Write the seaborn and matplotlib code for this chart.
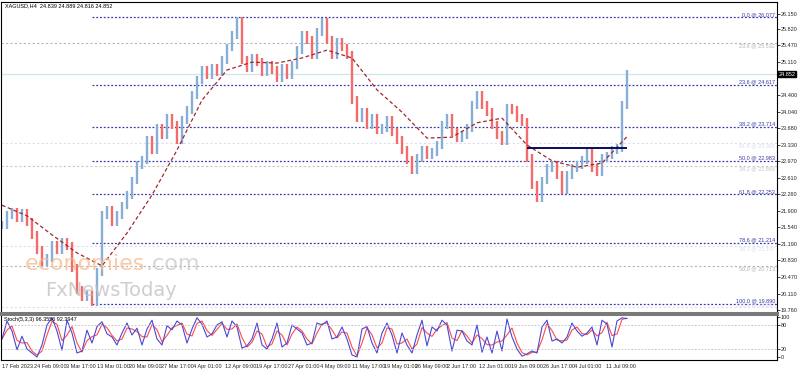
import numpy as np
import pandas as pd
import matplotlib
matplotlib.use("Agg")
import matplotlib.pyplot as plt
import seaborn as sns

# XAGUSD H4 closes, one per bar
closes = [
    21.59, 21.81, 21.87, 21.74, 21.85, 21.66, 21.38, 21.05, 20.79, 20.88,
    21.16, 21.05, 21.23, 21.14, 20.66, 20.19, 20.04, 20.08, 19.93, 20.58,
    21.81, 21.92, 21.66, 21.81, 22.02, 22.24, 22.56, 22.89, 23.00, 23.43,
    23.21, 23.69, 23.54, 23.90, 23.75, 23.43, 23.86, 24.08, 24.40, 24.72,
    24.94, 24.83, 24.98, 24.90, 25.16, 25.42, 25.70, 26.00, 25.16, 24.98,
    25.20, 25.11, 24.90, 25.05, 24.94, 24.77, 24.98, 24.83, 25.05, 25.37,
    25.70, 25.59, 25.26, 25.76, 25.98, 25.59, 25.26, 25.55, 25.42, 25.26,
    24.29, 23.90, 24.03, 23.75, 23.90, 23.64, 23.69, 23.86, 23.60, 23.43,
    23.21, 23.00, 22.78, 23.04, 23.21, 23.10, 23.17, 23.32, 23.75, 23.90,
    23.60, 23.47, 23.54, 23.69, 24.18, 24.40, 24.18, 24.03, 23.75, 23.54,
    23.39, 24.12, 24.08, 23.90, 23.82, 23.04, 22.46, 22.18, 22.56, 22.82,
    22.89, 22.67, 22.35, 22.67, 22.82, 22.89, 23.00, 23.17, 22.82, 22.74,
    23.04, 23.10, 23.21, 23.26, 24.18, 24.85,
]

# moving average, every 5th bar
ma_vals = [22.02, 21.79, 21.38, 20.99, 20.71, 21.42, 22.24, 23.21, 24.29,
           24.94, 25.11, 25.09, 25.20, 25.37, 25.20, 24.51, 24.03, 23.47,
           23.49, 23.80, 23.90, 23.32, 22.98, 22.84, 22.93, 23.50]

# stochastic %K, one per bar
stoch_k = [
    45, 90, 65, 18, 52, 20, 10, 0, 30, 80,
    98, 65, 17, 92, 60, 10, 15, 67, 35, 76,
    88, 58, 50, 30, 60, 85, 55, 72, 30, 70,
    92, 45, 30, 78, 68, 90, 80, 35, 70, 98,
    82, 50, 58, 80, 88, 50, 90, 75, 22, 28,
    45, 85, 30, 20, 45, 85, 25, 35, 80, 70,
    60, 30, 35, 85, 80, 90, 45, 50, 75, 45,
    5, 0, 70, 76, 35, 10, 60, 85, 55, 10,
    60, 30, 10, 55, 92, 28, 75, 65, 92, 80,
    15, 67, 65, 40, 30, 80, 12, 50, 10, 65,
    15, 95, 50, 20, 2, 8, 15, 10, 75, 92,
    40, 45, 35, 50, 85, 65, 52, 60, 75, 30,
    92, 82, 25, 90, 98, 96,
]

# fibonacci retracement (main tool)
fib_levels = ["0.0", "23.6", "38.2", "50.0", "61.8", "78.6", "100.0"]
fib_prices = [26.077, 24.617, 23.714, 22.983, 22.253, 21.214, 19.890]

# older fibonacci objects (faint)
old_levels = ["23.6", "61.8", "38.2", "38.2", "50.0", "100.0"]
old_prices = [25.532, 23.361, 22.868, 21.147, 20.713, 19.812]
old_colors = ["#B4B4B4", "#DCDCF2", "#C8C8C8", "#DCDCF2", "#B4B4B4", "#DCDCF2"]

price_ticks = [26.150, 25.820, 25.470, 25.110, 24.400, 24.040, 23.680, 23.330,
               22.970, 22.610, 22.260, 21.900, 21.540, 21.190, 20.830, 20.470,
               20.110, 19.760]
date_labels = ["17 Feb 2023", "24 Feb 09:00", "3 Mar 17:00", "13 Mar 01:00",
               "20 Mar 09:00", "27 Mar 17:00", "4 Apr 01:00", "12 Apr 09:00",
               "19 Apr 17:00", "27 Apr 01:00", "4 May 09:00", "11 May 17:00",
               "19 May 01:00", "26 May 09:00", "2 Jun 17:00", "12 Jun 01:00",
               "19 Jun 09:00", "26 Jun 17:00", "4 Jul 01:00", "11 Jul 09:00"]

bid = 24.852
resistance = 23.26
res_start, res_end = 105, 125
fib_start = 18

sns.set_style("white")
plt.rcParams["font.family"] = ["Liberation Sans Narrow", "Liberation Sans", "DejaVu Sans"]

df = pd.DataFrame({"bar": np.arange(len(closes)), "close": closes, "k": stoch_k})
df["open"] = [closes[0]] + closes[:-1]
df["d"] = df["k"].rolling(2, min_periods=1).mean()
df["lo"] = df[["open", "close"]].min(axis=1) - 0.08
df["hi"] = df[["open", "close"]].max(axis=1) + 0.08
up = df["close"] >= df["open"]

ma_df = pd.DataFrame({"bar": np.arange(0, len(closes), 5), "ma": ma_vals})

fig = plt.figure(figsize=(7.98, 3.72), dpi=100)
ax = fig.add_axes([1 / 798, 1 - 313 / 372, 776 / 798, 311 / 372])
ax2 = fig.add_axes([1 / 798, 1 - 360 / 372, 776 / 798, 46 / 372])

xlim = (-0.2, 155)
small = 4.0

# faint old fib lines (labels under the line, except the lowest one)
for p, lvl, c in zip(old_prices, old_levels, old_colors):
    ax.hlines(p, xlim[0], xlim[1], colors=c, linestyles=(0, (2, 2)), lw=0.8)
    below = p > 20
    ax.text(154.6, p - 0.015 if below else p + 0.01, f"{lvl} @ {p:.3f}", ha="right",
            va="top" if below else "bottom", fontsize=small, color=c)

ax.axhline(bid, color="#CFE7EF", lw=0.9)

# main fib
for p, lvl in zip(fib_prices, fib_levels):
    ax.hlines(p, fib_start, xlim[1], colors="#3A3AA6", linestyles=(0, (1.5, 1.5)), lw=0.9)
    ax.text(154.6, p + 0.01, f"{lvl} @ {p:.3f}", ha="right", va="bottom",
            fontsize=small, color="#3A3AA6")

# bars
ax.vlines(df["bar"][up], df["lo"][up], df["hi"][up], color="#86AED6", lw=1.7)
ax.vlines(df["bar"][~up], df["lo"][~up], df["hi"][~up], color="#F36B6B", lw=1.7)

sns.lineplot(data=ma_df, x="bar", y="ma", ax=ax, color="#A0282D", lw=0.9,
             linestyle=(0, (3, 2)))
ax.hlines(resistance, res_start, res_end, colors="#0A0A5A", lw=1.4)

ax.set_xlim(*xlim)
ax.set_ylim(19.692, 26.409)
ax.set_xticks([])
ax.set_xlabel("")
ax.set_ylabel("")
ax.yaxis.tick_right()
ax.set_yticks(price_ticks)
ax.set_yticklabels([f"{v:.3f}" for v in price_ticks])
ax.tick_params(axis="y", length=2, width=0.6, labelsize=small, pad=0.8)
for s in ax.spines.values():
    s.set_color("black")
    s.set_linewidth(0.8)
ax.spines["bottom"].set_color("#7A7A7A")
ax.spines["bottom"].set_linewidth(2.2)

ax.text(1.002, bid, f"{bid:.3f}", transform=ax.get_yaxis_transform(),
        ha="left", va="center", fontsize=small, color="white", zorder=10,
        bbox=dict(boxstyle="square,pad=0.15", fc="black", ec="black"), clip_on=False)

# stochastic pane
sns.lineplot(data=df, x="bar", y="d", ax=ax2, color="#FF4A4A", lw=0.8)
sns.lineplot(data=df, x="bar", y="k", ax=ax2, color="#4848D8", lw=0.8)
ax2.axhline(80, color="#BDBDBD", lw=0.6, linestyle=(0, (2, 2)))
ax2.axhline(20, color="#BDBDBD", lw=0.6, linestyle=(0, (2, 2)))
ax2.set_xlim(*xlim)
ax2.set_ylim(-7.5, 107.5)
ax2.set_xlabel("")
ax2.set_ylabel("")
ax2.yaxis.tick_right()
ax2.set_yticks([100, 80, 20, 0])
ax2.tick_params(axis="y", length=2, width=0.6, labelsize=small, pad=0.8)
ax2.set_xticks(np.arange(len(date_labels)) * 6.36)
ax2.set_xticklabels(date_labels)
ax2.tick_params(axis="x", length=2, width=0.6, labelsize=small, pad=1.2)
for lab in ax2.get_xticklabels():
    lab.set_ha("left")
for s in ax2.spines.values():
    s.set_color("black")
    s.set_linewidth(0.8)
ax2.spines["top"].set_color("#7A7A7A")
ax2.spines["top"].set_linewidth(2.2)
ax2.text(0.004, 0.93, "Stoch(5,3,3) 96.3556 92.3947", transform=ax2.transAxes,
         ha="left", va="top", fontsize=small, color="black")

# header and watermark
fig.text(5 / 798, 1 - 6 / 372, "XAGUSD,H4  24.839 24.889 24.816 24.852",
         ha="left", va="center", fontsize=small, color="black")
fig.text(25 / 798, 1 - 270 / 372, "economies", ha="left", va="baseline",
         fontsize=16, color="#F7B98A", alpha=0.75, family="DejaVu Sans")
fig.text(146 / 798, 1 - 270 / 372, ".com", ha="left", va="baseline",
         fontsize=16, color="#C8C8C8", alpha=0.75, family="DejaVu Sans")
fig.text(45 / 798, 1 - 296 / 372, "FxNewsToday", ha="left", va="baseline",
         fontsize=14, color="#BEBEBE", alpha=0.75, family="DejaVu Sans")

fig.savefig("out.png", dpi=100)
